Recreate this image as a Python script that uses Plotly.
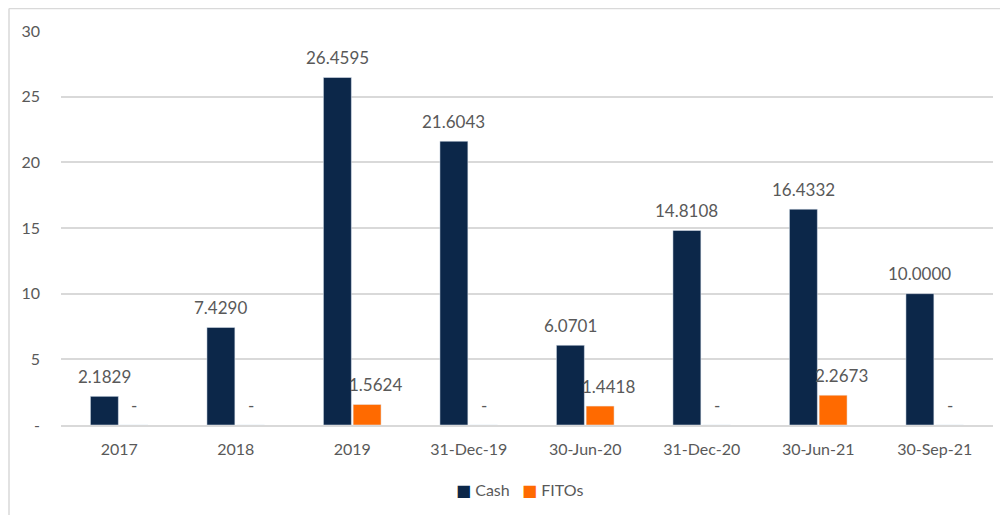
import plotly.graph_objects as go

categories = ["2017", "2018", "2019", "31-Dec-19", "30-Jun-20", "31-Dec-20", "30-Jun-21", "30-Sep-21"]
cash = [2.1829, 7.4290, 26.4595, 21.6043, 6.0701, 14.8108, 16.4332, 10.0000]
fitos = [0, 0, 1.5624, 0, 1.4418, 0, 2.2673, 0]
y_tickvals = [0, 5, 10, 15, 20, 25, 30]
y_ticktext = ["-", "5", "10", "15", "20", "25", "30"]

def label(v):
    return f"{v:.4f}" if v else "-"

FONT = "Lato"
GREY = "#595959"
NAVY = "#0C2749"
ORANGE = "#FF6A00"

fig = go.Figure()
fig.add_trace(go.Bar(name="Cash", x=categories, y=cash, marker_color=NAVY))
fig.add_trace(go.Bar(name="FITOs", x=categories, y=fitos, marker_color=ORANGE))

L, T, R, B = 53, 23, 23, 98
PW, PH = 1008 - L - R, 515 - T - B

fig.update_layout(
    width=1008, height=515,
    margin=dict(l=L, r=R, t=T, b=B, autoexpand=False),
    paper_bgcolor="white", plot_bgcolor="white",
    barmode="group", bargap=0.49, bargroupgap=0.06,
    font=dict(family=FONT, size=16, color=GREY),
    showlegend=False,
)
fig.update_yaxes(range=[0, 30], tickvals=y_tickvals, ticktext=y_ticktext,
                 showgrid=True, gridcolor="#d9d9d9", gridwidth=1.5, zeroline=False,
                 showline=False, ticks="", ticklabelstandoff=20,
                 tickfont=dict(family=FONT, size=16, color=GREY))
fig.update_xaxes(type="category", categoryorder="array", categoryarray=categories,
                 range=[-0.5, len(categories) - 0.5],
                 showgrid=False, showline=True, linecolor="#d9d9d9", linewidth=1.5,
                 ticks="", ticklabelstandoff=9,
                 tickfont=dict(family=FONT, size=16, color=GREY))

# data labels anchored to each bar's value (category axis -> category index)
for i, v in enumerate(cash):
    fig.add_annotation(x=i, y=v, xref="x", yref="y", text=label(v), showarrow=False,
                       xshift=-15, yshift=20, yanchor="middle",
                       font=dict(family=FONT, size=17, color=GREY))
for i, v in enumerate(fitos):
    fig.add_annotation(x=i, y=v, xref="x", yref="y", text=label(v), showarrow=False,
                       xshift=23 if v else 15, yshift=20, yanchor="middle",
                       font=dict(family=FONT, size=17, color=GREY))

# legend
fig.add_annotation(xref="paper", yref="paper", x=(511 - L) / PW, y=-0.165, yanchor="middle",
                   showarrow=False,
                   text=(f"<span style='color:{NAVY};font-family:DejaVu Sans'>■</span> Cash"
                         f"   <span style='color:{ORANGE};font-family:DejaVu Sans'>■</span> FITOs"),
                   font=dict(family=FONT, size=16, color=GREY))

# chart border (left and top edges visible)
x_left = (1 - L) / PW
y_top = 1 + (T - 0.5) / PH
fig.add_shape(type="line", xref="paper", yref="paper", x0=x_left, x1=x_left, y0=-0.4, y1=y_top,
              line=dict(color="#d9d9d9", width=1.5))
fig.add_shape(type="line", xref="paper", yref="paper", x0=x_left, x1=1.2, y0=y_top, y1=y_top,
              line=dict(color="#d9d9d9", width=1.5))

fig.write_html("out.html")
